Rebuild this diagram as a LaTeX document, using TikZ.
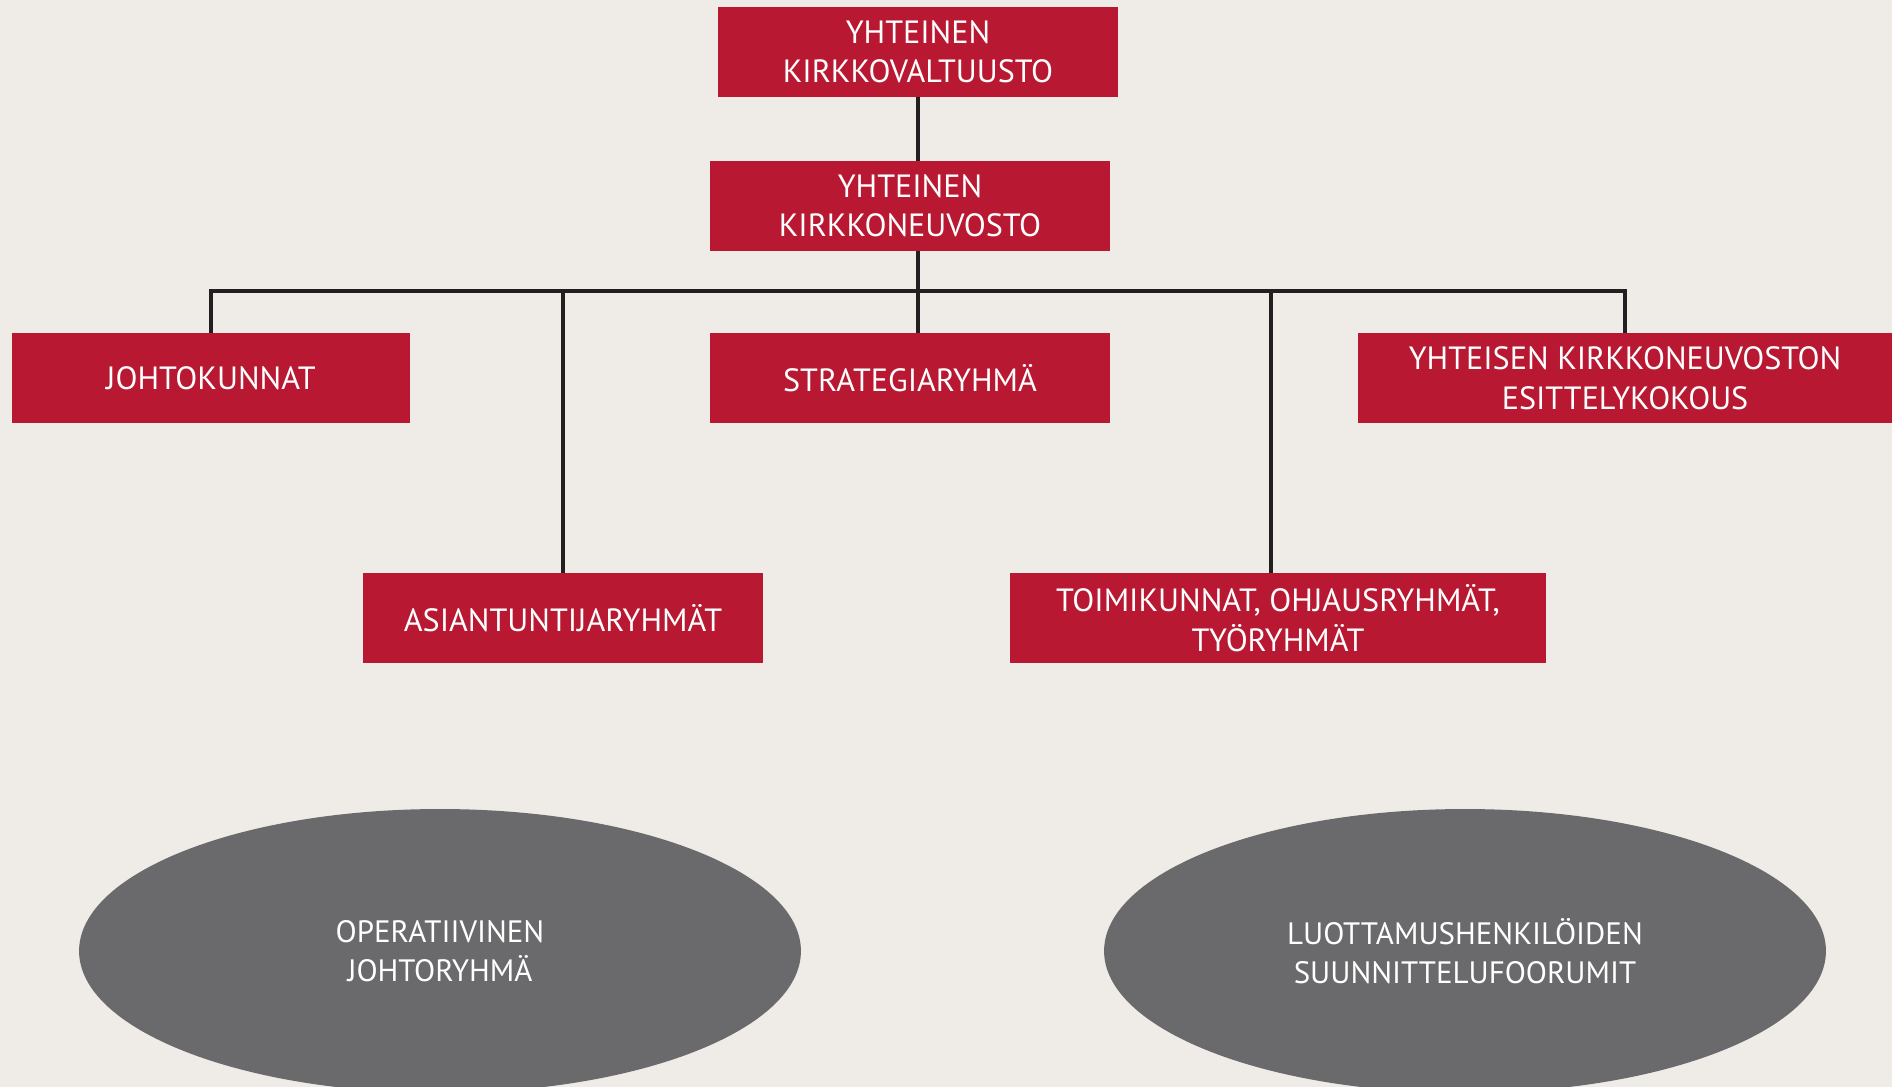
\documentclass[tikz,border=0pt]{standalone}
\usepackage{fontspec}
\setmainfont{PT Sans}
\usetikzlibrary{shapes.geometric,calc}
\usepackage{xcolor}

\begin{document}
\begin{tikzpicture}[x=0.02cm,y=-0.02cm]

\definecolor{kirkkored}{RGB}{184,24,49}
\definecolor{taustabeige}{RGB}{239,236,231}
\definecolor{harmaa}{RGB}{106,106,108}
\definecolor{viiva}{RGB}{35,31,32}

\tikzset{
  laatikko/.style={fill=kirkkored, text=white, minimum height=1.8cm, inner sep=0pt, align=center, font=\fontsize{18.3}{22.5}\selectfont},
  soikio/.style={ellipse, fill=harmaa, text=white, minimum width=14.44cm, minimum height=5.68cm, inner sep=0pt, align=center, font=\fontsize{17.6}{22.5}\selectfont},
  yhteys/.style={draw=viiva, line width=2.1pt}
}

\fill [taustabeige] (0,0) rectangle (1892,1087);
\useasboundingbox (0,0) rectangle (1892,1087);
\clip (0,0) rectangle (1892,1087);

\node (valtuusto) at (918,52) [laatikko, minimum width=8cm] {YHTEINEN\\KIRKKOVALTUUSTO};
\node (neuvosto) at (910,206) [laatikko, minimum width=8cm] {YHTEINEN\\KIRKKONEUVOSTO};
\node (johto) at (211,378) [laatikko, minimum width=7.98cm] {JOHTOKUNNAT};
\node (strategia) at (910,378) [laatikko, minimum width=8cm] {STRATEGIARYHMÄ};
\node (esittely) at (1625,378) [laatikko, minimum width=10.7cm] {YHTEISEN KIRKKONEUVOSTON\\ESITTELYKOKOUS};
\node (asiantuntija) at (563,618) [laatikko, minimum width=8cm] {ASIANTUNTIJARYHMÄT};
\node (toimikunnat) at (1278,618) [laatikko, minimum width=10.74cm] {TOIMIKUNNAT, OHJAUSRYHMÄT,\\TYÖRYHMÄT};

\node (operatiivinen) at (440,951) [soikio] {OPERATIIVINEN\\JOHTORYHMÄ};
\node (foorumit) at (1465,951) [soikio] {LUOTTAMUSHENKILÖIDEN\\SUUNNITTELUFOORUMIT};

\coordinate (runko) at (918,291);

\draw [yhteys] (valtuusto.south) -- (valtuusto.south |- neuvosto.north);
\draw [yhteys] (valtuusto.south |- neuvosto.south) -- (runko);
\draw [yhteys] (johto.north) |- (runko) -| (esittely.north);
\draw [yhteys] (asiantuntija.north) -- (asiantuntija.north |- runko);
\draw [yhteys] ($(toimikunnat.north)+(-7,0)$) -- ($(toimikunnat.north |- runko)+(-7,0)$);
\draw [yhteys] (strategia.north -| runko) -- (runko);

\end{tikzpicture}
\end{document}
